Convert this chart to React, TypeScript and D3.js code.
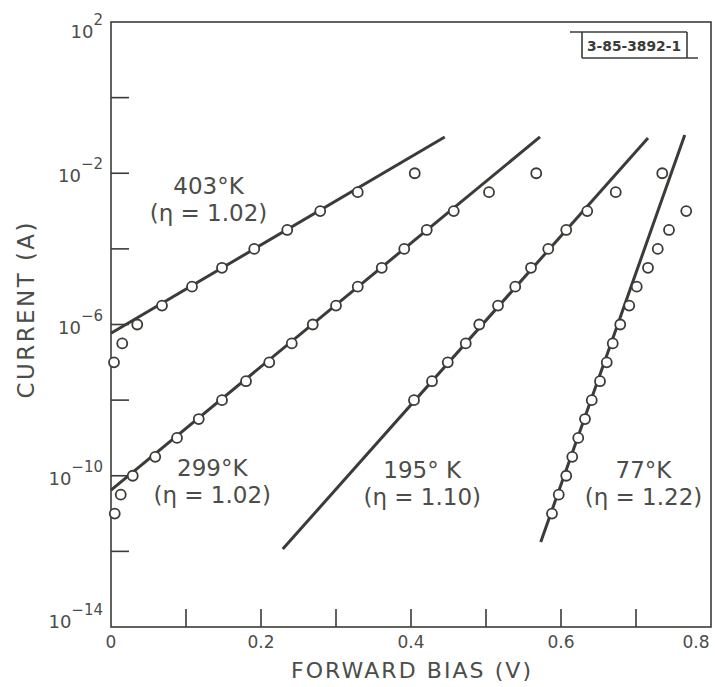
import * as d3 from "d3";

const W = 715;
const H = 687;
const M = { top: 22, right: 4, bottom: 60, left: 111 };

// forward bias (V) and log10(current) for each temperature
const v403 = [0.004, 0.015, 0.035, 0.068, 0.108, 0.148, 0.191, 0.235, 0.279, 0.329, 0.405];
const i403 = [-7.0, -6.5, -6.0, -5.5, -5.0, -4.5, -4.0, -3.5, -3.0, -2.5, -2.0];

const v299 = [0.005, 0.013, 0.029, 0.059, 0.088, 0.117, 0.148, 0.18, 0.211, 0.241, 0.269, 0.3, 0.329, 0.361, 0.391, 0.421, 0.457, 0.504, 0.567];
const i299 = [-11.0, -10.5, -10.0, -9.5, -9.0, -8.5, -8.0, -7.5, -7.0, -6.5, -6.0, -5.5, -5.0, -4.5, -4.0, -3.5, -3.0, -2.5, -2.0];

const v195 = [0.404, 0.428, 0.449, 0.473, 0.491, 0.516, 0.539, 0.56, 0.583, 0.607, 0.635, 0.673, 0.735];
const i195 = [-8.0, -7.5, -7.0, -6.5, -6.0, -5.5, -5.0, -4.5, -4.0, -3.5, -3.0, -2.5, -2.0];

const v77 = [0.588, 0.597, 0.607, 0.615, 0.623, 0.632, 0.641, 0.652, 0.661, 0.669, 0.679, 0.691, 0.701, 0.716, 0.729, 0.744, 0.767];
const i77 = [-11.0, -10.5, -10.0, -9.5, -9.0, -8.5, -8.0, -7.5, -7.0, -6.5, -6.0, -5.5, -5.0, -4.5, -4.0, -3.5, -3.0];

// fitted lines, [start, end] as [V, log10 I]
const fit403 = [[0, -6.23], [0.445, -1.04]];
const fit299 = [[0, -10.38], [0.572, -1.04]];
const fit195 = [[0.229, -11.94], [0.716, -1.07]];
const fit77 = [[0.573, -11.75], [0.765, -0.99]];

const xTicks = [0, 0.1, 0.2, 0.3, 0.4, 0.5, 0.6, 0.7, 0.8];
const xLabels = [0, 0.2, 0.4, 0.6, 0.8];
const yTicks = [2, 0, -2, -4, -6, -8, -10, -12, -14];
const yLabels = [2, -2, -6, -10, -14];

const labels = [
  { name: "403°K", eta: "(η = 1.02)", v: 0.13, logI: -2.55 },
  { name: "299°K", eta: "(η = 1.02)", v: 0.135, logI: -10.0 },
  { name: "195° K", eta: "(η = 1.10)", v: 0.415, logI: -10.05 },
  { name: "77°K", eta: "(η = 1.22)", v: 0.71, logI: -10.05 },
];

const INK = "#3a3c38";
const TEXT = "#4b4d49";
const FONT = "'DejaVu Sans', sans-serif";

export default function App() {
  const x = d3.scaleLinear().domain([0, 0.8]).range([M.left, W - M.right]);
  const y = d3.scaleLog().domain([1e-14, 1e2]).range([H - M.bottom, M.top]);
  const yl = (l: number) => y(Math.pow(10, l));

  const line = d3
    .line<number[]>()
    .x((d) => x(d[0]))
    .y((d) => yl(d[1]));

  const series = [
    { v: v403, i: i403, fit: fit403 },
    { v: v299, i: i299, fit: fit299 },
    { v: v195, i: i195, fit: fit195 },
    { v: v77, i: i77, fit: fit77 },
  ];

  const x0 = x(0);
  const x1 = x(0.8);
  const yTop = yl(2);
  const yBot = yl(-14);

  return (
    <svg
      width={W}
      height={H}
      style={{ position: "absolute", left: 0, top: 0, background: "#fff" }}
      fontFamily={FONT}
    >
      {/* frame */}
      <rect x={x0} y={yTop} width={x1 - x0} height={yBot - yTop} fill="none" stroke={INK} strokeWidth={1.6} />

      {/* y ticks */}
      {yTicks.slice(1, -1).map((t) => (
        <line key={t} x1={x0} x2={x0 + 18} y1={yl(t)} y2={yl(t)} stroke={INK} strokeWidth={1.6} />
      ))}
      {yLabels.map((t) => {
        const dy = t === 2 ? 16 : t === -14 ? 1 : 9;
        return (
          <text key={t} x={103} y={yl(t) + dy} textAnchor="end" fill={TEXT} fontSize={18}>
            10
            <tspan dy={-13} fontSize={15}>
              {t < 0 ? "\u2212" + Math.abs(t) : t}
            </tspan>
          </text>
        );
      })}

      {/* x ticks */}
      {xTicks.slice(1, -1).map((t) => (
        <line key={t} x1={x(t)} x2={x(t)} y1={yBot} y2={yBot - 18} stroke={INK} strokeWidth={1.6} />
      ))}
      {xLabels.map((t) => (
        <text
          key={t}
          x={Math.min(x(t), 696)}
          y={648}
          textAnchor="middle"
          fill={TEXT}
          fontSize={17}
        >
          {t === 0 ? "0" : d3.format(".1f")(t)}
        </text>
      ))}

      {/* axis titles */}
      <text
        x={411}
        y={678}
        textAnchor="middle"
        fill={TEXT}
        fontSize={22}
        textLength={240}
        lengthAdjust="spacing"
      >
        FORWARD BIAS (V)
      </text>
      <text
        transform={`translate(34,${(yTop + yBot) / 2 - 14}) rotate(-90)`}
        textAnchor="middle"
        fill={TEXT}
        fontSize={23}
        textLength={176}
        lengthAdjust="spacing"
      >
        CURRENT (A)
      </text>

      {/* fitted lines */}
      {series.map((s, k) => (
        <path key={k} d={line(s.fit) ?? ""} fill="none" stroke={INK} strokeWidth={3} />
      ))}

      {/* measured points */}
      {series.map((s, k) =>
        s.v.map((v, j) => (
          <circle
            key={k + "-" + j}
            cx={x(v)}
            cy={yl(s.i[j])}
            r={5}
            fill="#fff"
            stroke={INK}
            strokeWidth={1.8}
          />
        ))
      )}

      {/* curve labels */}
      {labels.map((l) => (
        <g key={l.name} fill={TEXT} fontSize={23} textAnchor="middle">
          <text x={x(l.v)} y={yl(l.logI)}>
            {l.name}
          </text>
          <text x={x(l.v)} y={yl(l.logI) + 27}>
            {l.eta}
          </text>
        </g>
      ))}

      {/* drawing number box */}
      <g stroke={INK} strokeWidth={1.6}>
        <line x1={570} x2={687} y1={32} y2={32} />
        <line x1={582} x2={698} y1={58} y2={58} />
        <line x1={582} x2={582} y1={32} y2={58} />
        <line x1={687} x2={687} y1={32} y2={58} />
      </g>
      <text
        x={634}
        y={51}
        textAnchor="middle"
        fill={INK}
        fontSize={14}
        fontWeight="bold"
        fontFamily="'DejaVu Sans Condensed', 'DejaVu Sans', sans-serif"
        textLength={94}
        lengthAdjust="spacingAndGlyphs"
      >
        3-85-3892-1
      </text>
    </svg>
  );
}
